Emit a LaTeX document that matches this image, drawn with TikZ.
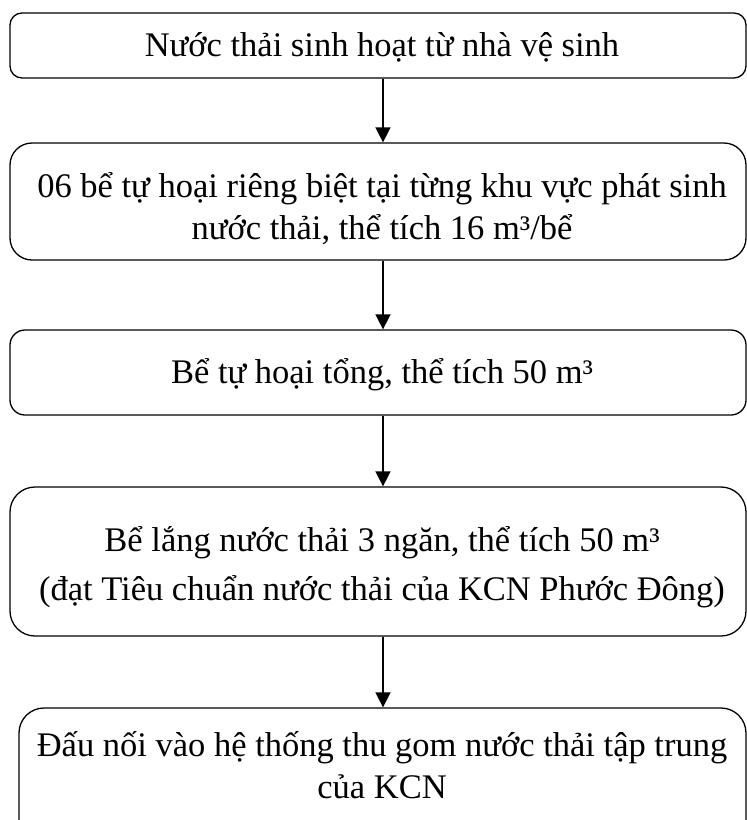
\documentclass[tikz,border=0pt]{standalone}
\usepackage{fontspec}
\setmainfont{Liberation Serif}
\usetikzlibrary{arrows.meta}
\tikzset{
  boxshape/.style={draw, line width=1.3pt, rectangle, inner sep=0pt},
  lbl/.style={anchor=base, inner sep=0pt, font=\fontsize{34.5}{40}\selectfont},
  flow/.style={line width=1.6pt, -{Triangle[width=15pt,length=15pt]}}
}
\begin{document}
\begin{tikzpicture}[x=1pt,y=-1pt]
\useasboundingbox (0,0) rectangle (747,820);
\fill[white] (0,0) rectangle (747,820);
\begin{scope}
\clip (0,0) rectangle (747,820);
\node[boxshape, rounded corners=12pt, minimum width=736pt, minimum height=65pt] (b1) at (378,45.5) {};
\node[boxshape, rounded corners=22pt, minimum width=736pt, minimum height=117pt] (b2) at (378,201.5) {};
\node[boxshape, rounded corners=15pt, minimum width=736pt, minimum height=85pt] (b3) at (378,372.5) {};
\node[boxshape, rounded corners=25pt, minimum width=736pt, minimum height=149pt] (b4) at (378,561.5) {};
\node[boxshape, rounded corners=25pt, minimum width=727pt, minimum height=140pt] (b5) at (382.5,778) {};
\end{scope}
\node[lbl] (t1) at (382,56) {Nước thải sinh hoạt từ nhà vệ sinh};
\node[lbl] (t2a) at (382,197) {06 bể tự hoại riêng biệt tại từng khu vực phát sinh};
\node[lbl] (t2b) at (382,239) {nước thải, thể tích 16 m³/bể};
\node[lbl] (t3) at (382,383) {Bể tự hoại tổng, thể tích 50 m³};
\node[lbl] (t4a) at (382,551) {Bể lắng nước thải 3 ngăn, thể tích 50 m³};
\node[lbl] (t4b) at (382,600) {(đạt Tiêu chuẩn nước thải của KCN Phước Đông)};
\node[lbl] (t5a) at (382,756) {Đấu nối vào hệ thống thu gom nước thải tập trung};
\node[lbl] (t5b) at (382,798) {của KCN};
\draw[flow] (b1.south -| 383,0) -- (b2.north -| 383,0);
\draw[flow] (b2.south -| 383,0) -- (b3.north -| 383,0);
\draw[flow] (b3.south -| 383,0) -- (b4.north -| 383,0);
\draw[flow] (b4.south -| 383,0) -- (b5.north -| 383,0);
\end{tikzpicture}
\end{document}
